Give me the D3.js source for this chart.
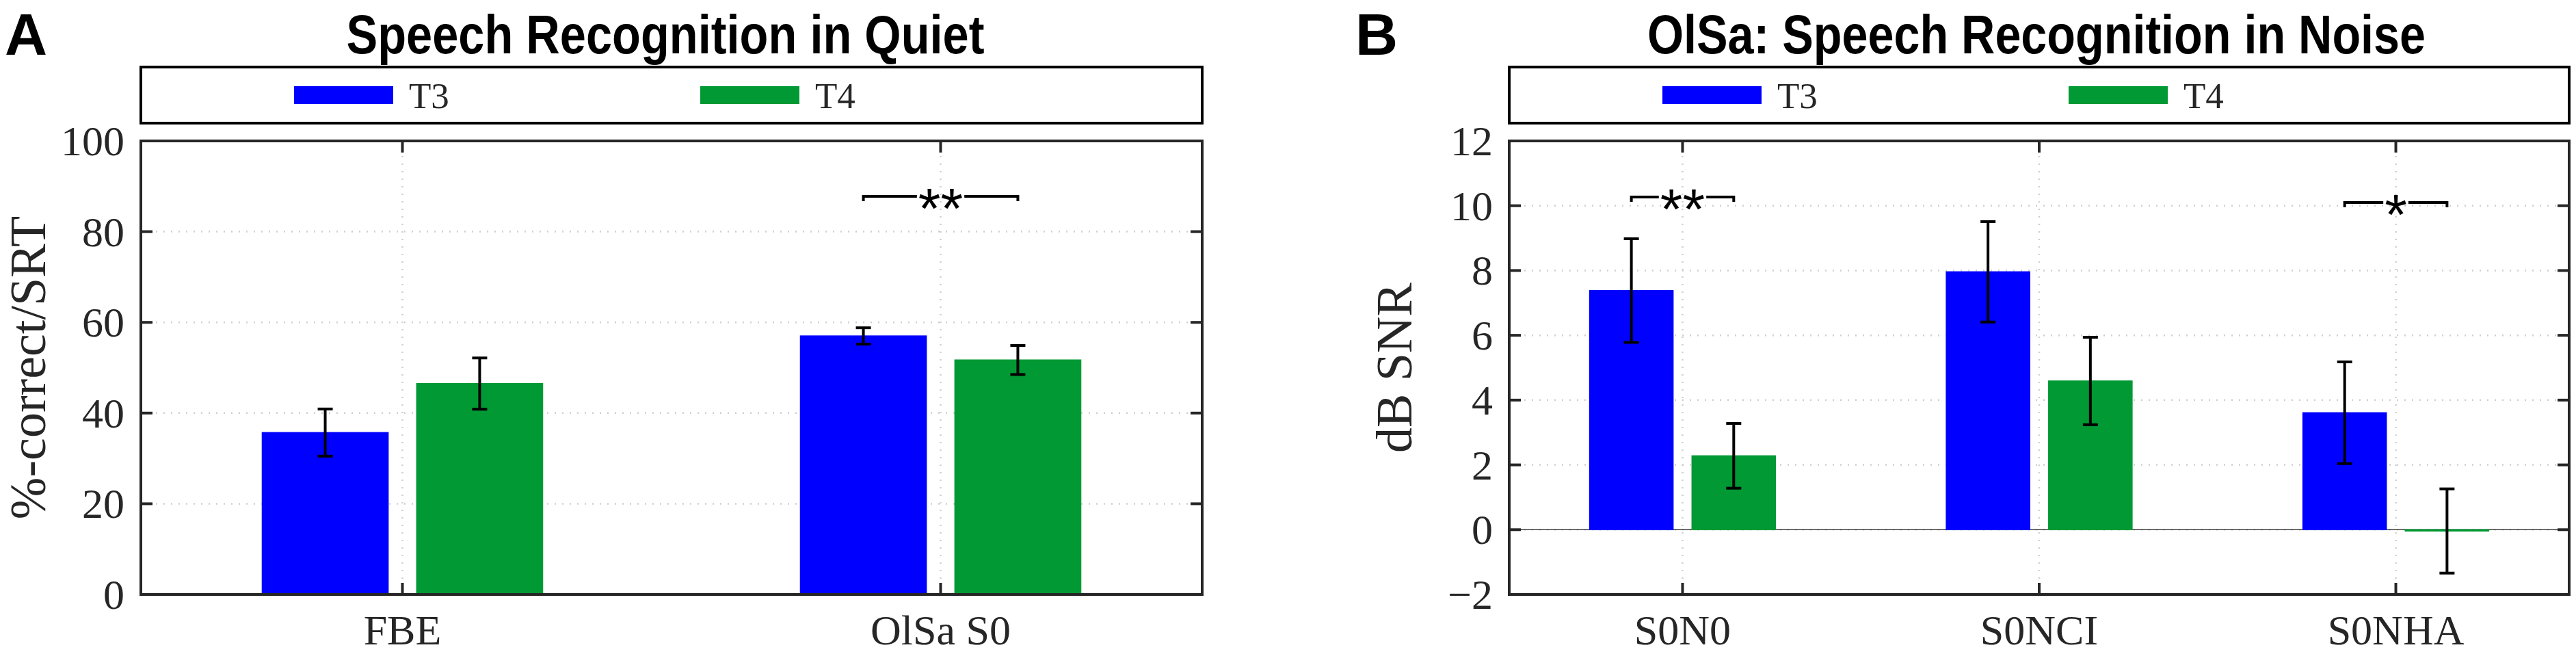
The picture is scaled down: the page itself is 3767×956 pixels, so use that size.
<!DOCTYPE html>
<html>
<head>
<meta charset="utf-8">
<script src="https://cdn.jsdelivr.net/npm/d3@7"></script>
<style>
  body { margin: 0; background: #fff; }
  .tick-label, .cat-label, .legend-text, .axis-label { font-family: "Liberation Serif", "Times New Roman", serif; fill: #262626; }
  .title { font-family: "Liberation Sans Narrow", "Arial Narrow", "Liberation Sans", Arial, sans-serif; font-weight: bold; fill: #000; }
  .panel-letter { font-family: "Liberation Sans", Arial, sans-serif; font-weight: bold; fill: #000; }
  .sig { font-family: "Liberation Sans", Arial, sans-serif; fill: #000; }
</style>
</head>
<body>
<div id="chart"></div>
<script>
/* ============================================================
   Data
   ============================================================ */

const seriesNames = ['T3', 'T4'];
const seriesColors = ['#0000ff', '#009933'];

// Panel A: speech recognition in quiet
const quietCategories = ['FBE', 'OlSa S0'];
const quietT3 = [35.7, 57.0];
const quietT3Err = [5.2, 1.8];
const quietT4 = [46.5, 51.7];
const quietT4Err = [5.65, 3.2];
const quietTicks = [0, 20, 40, 60, 80, 100];
const quietSig = [{ cat: 1, value: 87.8, label: '**' }];

// Panel B: OlSa speech recognition in noise
const noiseCategories = ['S0N0', 'S0NCI', 'S0NHA'];
const noiseT3 = [7.38, 7.96, 3.61];
const noiseT3Err = [1.6, 1.55, 1.57];
const noiseT4 = [2.28, 4.59, -0.04];
const noiseT4Err = [1.0, 1.35, 1.3];
const noiseTicks = [-2, 0, 2, 4, 6, 8, 10, 12];
const noiseSig = [
    { cat: 0, value: 10.27, label: '**' },
    { cat: 2, value: 10.1, label: '*' }
];

/* ============================================================
   Layout
   ============================================================ */

const W = 3767, H = 956;
const PLOT_TOP = 206, PLOT_BOTTOM = 869;
const LEGEND_TOP = 98, LEGEND_BOTTOM = 180;
const PAD = 0.486;          // x padding in category units
const BAR_W = 0.234;        // bar width in category units
const BAR_OFF = 0.1435;     // offset of each bar from category centre
const TICK_LEN = 17;
const AXIS_COLOR = '#262626';
const GRID_COLOR = '#cfcfcf';

const svg = d3.select('#chart')
    .append('svg')
    .attr('width', W)
    .attr('height', H);

svg.append('rect').attr('width', W).attr('height', H).attr('fill', '#fff');

function drawPanel(p) {
    const g = svg.append('g');
    const n = p.categories.length;
    const x = d3.scaleLinear().domain([1 - PAD, n + PAD]).range([p.left, p.right]);
    const y = d3.scaleLinear().domain(d3.extent(p.ticks)).range([PLOT_BOTTOM, PLOT_TOP]);
    const unit = x(2) - x(1);
    const [yMin, yMax] = y.domain();

    // Grid
    p.ticks.filter(t => t > yMin && t < yMax).forEach(t => {
        g.append('line')
            .attr('x1', p.left).attr('x2', p.right)
            .attr('y1', y(t)).attr('y2', y(t))
            .attr('stroke', GRID_COLOR).attr('stroke-width', 2.5)
            .attr('stroke-dasharray', '2,9');
    });
    p.categories.forEach((c, i) => {
        g.append('line')
            .attr('x1', x(i + 1)).attr('x2', x(i + 1))
            .attr('y1', PLOT_TOP).attr('y2', PLOT_BOTTOM)
            .attr('stroke', GRID_COLOR).attr('stroke-width', 2.5)
            .attr('stroke-dasharray', '2,9');
    });

    // Baseline at zero when the axis goes negative
    if (yMin < 0) {
        g.append('line')
            .attr('x1', p.left).attr('x2', p.right)
            .attr('y1', y(0)).attr('y2', y(0))
            .attr('stroke', '#404040').attr('stroke-width', 1.5);
    }

    // Bars
    p.series.forEach((s, si) => {
        const dir = si === 0 ? -1 : 1;
        s.values.forEach((v, i) => {
            const cx = x(i + 1) + dir * BAR_OFF * unit;
            g.append('rect')
                .attr('x', cx - BAR_W * unit / 2)
                .attr('y', y(Math.max(v, 0)))
                .attr('width', BAR_W * unit)
                .attr('height', Math.abs(y(v) - y(0)))
                .attr('fill', seriesColors[si])
                .attr('stroke', seriesColors[si])
                .attr('stroke-width', 1.5);
        });
    });

    // Error bars
    p.series.forEach((s, si) => {
        const dir = si === 0 ? -1 : 1;
        s.values.forEach((v, i) => {
            const cx = x(i + 1) + dir * BAR_OFF * unit;
            const hi = y(v + s.errors[i]), lo = y(v - s.errors[i]);
            g.append('line').attr('x1', cx).attr('x2', cx).attr('y1', hi).attr('y2', lo)
                .attr('stroke', '#000').attr('stroke-width', 4);
            [hi, lo].forEach(yy => {
                g.append('line').attr('x1', cx - 11).attr('x2', cx + 11).attr('y1', yy).attr('y2', yy)
                    .attr('stroke', '#000').attr('stroke-width', 4);
            });
        });
    });

    // Significance brackets
    p.sig.forEach(s => {
        const x0 = x(s.cat + 1) - BAR_OFF * unit;
        const x1 = x(s.cat + 1) + BAR_OFF * unit;
        const cx = x(s.cat + 1);
        const yy = y(s.value);
        const txt = g.append('text').attr('class', 'sig')
            .attr('x', cx).attr('y', yy + 47)
            .attr('text-anchor', 'middle')
            .attr('font-size', 84)
            .text(s.label);
        const half = txt.node().getComputedTextLength() / 2 + 2;
        const path = d3.path();
        path.moveTo(x0, yy + 7); path.lineTo(x0, yy); path.lineTo(cx - half, yy);
        path.moveTo(cx + half, yy); path.lineTo(x1, yy); path.lineTo(x1, yy + 7);
        g.append('path').attr('d', path.toString())
            .attr('fill', 'none').attr('stroke', '#000').attr('stroke-width', 4);
    });

    // Axes box and inward ticks
    g.append('rect')
        .attr('x', p.left).attr('y', PLOT_TOP)
        .attr('width', p.right - p.left).attr('height', PLOT_BOTTOM - PLOT_TOP)
        .attr('fill', 'none').attr('stroke', AXIS_COLOR).attr('stroke-width', 4);

    p.ticks.forEach(t => {
        [[p.left, p.left + TICK_LEN], [p.right - TICK_LEN, p.right]].forEach(([a, b]) => {
            g.append('line').attr('x1', a).attr('x2', b).attr('y1', y(t)).attr('y2', y(t))
                .attr('stroke', AXIS_COLOR).attr('stroke-width', 4);
        });
        g.append('text').attr('class', 'tick-label')
            .attr('x', p.left - 24).attr('y', y(t) + 21)
            .attr('text-anchor', 'end').attr('font-size', 62)
            .text(t < 0 ? '\u2212' + Math.abs(t) : t);
    });

    p.categories.forEach((c, i) => {
        [[PLOT_TOP, PLOT_TOP + TICK_LEN], [PLOT_BOTTOM - TICK_LEN, PLOT_BOTTOM]].forEach(([a, b]) => {
            g.append('line').attr('x1', x(i + 1)).attr('x2', x(i + 1)).attr('y1', a).attr('y2', b)
                .attr('stroke', AXIS_COLOR).attr('stroke-width', 4);
        });
        g.append('text').attr('class', 'cat-label')
            .attr('x', x(i + 1)).attr('y', 942)
            .attr('text-anchor', 'middle').attr('font-size', 62)
            .text(c);
    });

    // Y axis label
    g.append('text').attr('class', 'axis-label')
        .attr('transform', `translate(${p.yLabelX},${(PLOT_TOP + PLOT_BOTTOM) / 2}) rotate(-90)`)
        .attr('text-anchor', 'middle').attr('font-size', 74)
        .text(p.yLabel);

    // Title and panel letter
    g.append('text').attr('class', 'title')
        .attr('x', p.titleX).attr('y', 78)
        .attr('text-anchor', 'middle').attr('font-size', 80)
        .attr('textLength', p.titleW).attr('lengthAdjust', 'spacingAndGlyphs')
        .text(p.title);
    g.append('text').attr('class', 'panel-letter')
        .attr('x', p.letterX).attr('y', 80)
        .attr('font-size', 86)
        .text(p.letter);

    // Legend
    g.append('rect')
        .attr('x', p.left).attr('y', LEGEND_TOP)
        .attr('width', p.right - p.left).attr('height', LEGEND_BOTTOM - LEGEND_TOP)
        .attr('fill', '#fff').attr('stroke', '#000').attr('stroke-width', 4);
    const legendMid = (LEGEND_TOP + LEGEND_BOTTOM) / 2;
    seriesNames.forEach((name, si) => {
        const lx = p.left + 224 + si * 594;
        g.append('rect')
            .attr('x', lx).attr('y', legendMid - 13)
            .attr('width', 145).attr('height', 26)
            .attr('fill', seriesColors[si]);
        g.append('text').attr('class', 'legend-text')
            .attr('x', lx + 168).attr('y', legendMid + 19)
            .attr('font-size', 53).attr('fill', '#000')
            .text(name);
    });
}

drawPanel({
    left: 206, right: 1758,
    categories: quietCategories,
    series: [
        { values: quietT3, errors: quietT3Err },
        { values: quietT4, errors: quietT4Err }
    ],
    ticks: quietTicks,
    sig: quietSig,
    yLabel: '%-correct/SRT', yLabelX: 66,
    title: 'Speech Recognition in Quiet', titleX: 973, titleW: 933,
    letter: 'A', letterX: 7
});

drawPanel({
    left: 2207, right: 3757,
    categories: noiseCategories,
    series: [
        { values: noiseT3, errors: noiseT3Err },
        { values: noiseT4, errors: noiseT4Err }
    ],
    ticks: noiseTicks,
    sig: noiseSig,
    yLabel: 'dB SNR', yLabelX: 2064,
    title: 'OlSa: Speech Recognition in Noise', titleX: 2978, titleW: 1138,
    letter: 'B', letterX: 1982
});
</script>
</body>
</html>
